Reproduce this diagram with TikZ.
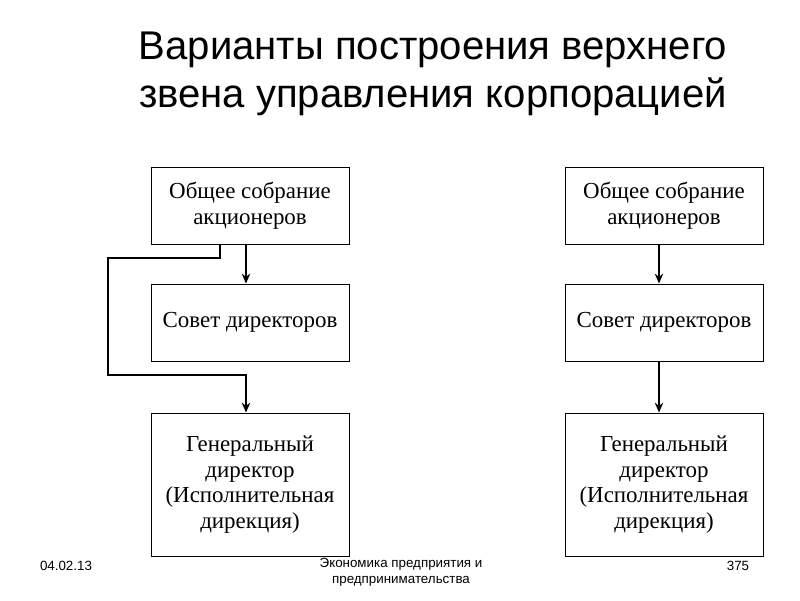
\documentclass[tikz,border=0pt]{standalone}
\usepackage{fontspec}
\setmainfont{Liberation Serif}
\newfontfamily\sansf{Liberation Sans}
\usetikzlibrary{arrows.meta}
\begin{document}
\begin{tikzpicture}[x=0.025cm,y=-0.025cm,
  box/.style={draw,line width=0.7pt,minimum width=198*0.025cm,align=center,font=\fontsize{16.3}{18.2}\selectfont,inner sep=0pt},
  conn/.style={line width=1.8pt,-{Stealth[length=7pt,width=6pt]}},
  foot/.style={font=\sansf\fontsize{9.5}{11.5}\selectfont,align=center}]
\useasboundingbox (0,0) rectangle (800,600);
\node[font=\sansf\fontsize{28.5}{34}\selectfont,align=center] (title) at (433,74) {Варианты построения верхнего\\звена управления корпорацией};
\node[box,minimum height=77*0.025cm] (l1) at (250,205.5) {Общее собрание\\акционеров};
\node[box,minimum height=77*0.025cm] (l2) at (250,322.5) {Совет директоров};
\node[box,minimum height=143*0.025cm] (l3) at (250,484.5) {Генеральный\\директор\\(Исполнительная\\дирекция)};
\node[box,minimum height=77*0.025cm] (r1) at (664,205.5) {Общее собрание\\акционеров};
\node[box,minimum height=77*0.025cm] (r2) at (664,322.5) {Совет директоров};
\node[box,minimum height=143*0.025cm] (r3) at (664,484.5) {Генеральный\\директор\\(Исполнительная\\дирекция)};
\draw[conn] (l1.south -| 246,0) -- (l2.north -| 246,0);
\draw[conn] (l1.south -| 220,0) -- (220,258) -- (108,258) -- (108,375) -- (246,375) -- (l3.north -| 246,0);
\draw[conn] (r1.south -| 659,0) -- (r2.north -| 659,0);
\draw[conn] (r2.south -| 659,0) -- (r3.north -| 659,0);
\node[foot] (date) at (66,566) {04.02.13};
\node[foot] (ft) at (401,572) {Экономика предприятия и\\предпринимательства};
\node[foot] (pg) at (738,566) {375};
\end{tikzpicture}
\end{document}
